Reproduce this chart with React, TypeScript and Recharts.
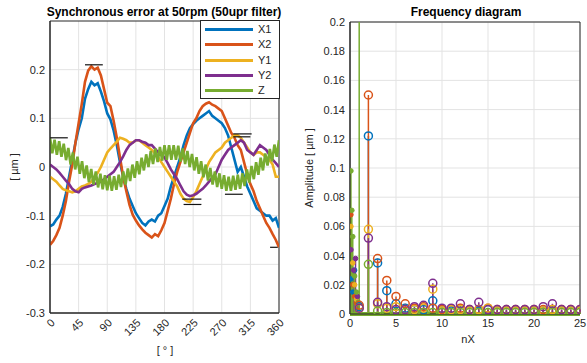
import React from 'react';
import {
  LineChart, Line, XAxis, YAxis, CartesianGrid, ReferenceLine, ReferenceArea,
  ComposedChart, Scatter, ErrorBar,
} from 'recharts';

const C_X1 = '#0072BD';
const C_X2 = '#D95319';
const C_Y1 = '#EDB120';
const C_Y2 = '#7E2F8E';
const C_Z = '#77AC30';
const TXT = '#262626';
const GRID = '#e3e3e3';
const FONT = '"Liberation Sans", Arial, Helvetica, sans-serif';

// ---------- Left: synchronous error ----------
const angleTicks = [0, 45, 90, 135, 180, 225, 270, 315, 360];
const errorTicks = [-0.3, -0.2, -0.1, 0, 0.1, 0.2];
const angles = [0,5,10,15,20,25,30,35,40,45,50,55,60,65,70,75,80,85,90,95,100,105,110,115,120,125,130,135,140,145,150,155,160,165,170,175,180,185,190,195,200,205,210,215,220,225,230,235,240,245,250,255,260,265,270,275,280,285,290,295,300,305,310,315,320,325,330,335,340,345,350,355,360];
const x1Error = [-0.122,-0.118,-0.108,-0.1,-0.082,-0.055,-0.02,0.015,0.05,0.078,0.1,0.14,0.16,0.175,0.168,0.172,0.155,0.135,0.11,0.098,0.075,0.045,0.01,-0.02,-0.045,-0.065,-0.08,-0.095,-0.105,-0.115,-0.12,-0.112,-0.108,-0.112,-0.1,-0.095,-0.08,-0.065,-0.04,-0.02,0.0,0.02,0.045,0.065,0.08,0.088,0.095,0.1,0.105,0.11,0.115,0.105,0.1,0.095,0.09,0.08,0.065,0.04,0.015,-0.01,0.0,-0.02,-0.04,-0.055,-0.07,-0.085,-0.09,-0.095,-0.1,-0.1,-0.11,-0.105,-0.125];
const x2Error = [-0.16,-0.152,-0.14,-0.125,-0.1,-0.07,-0.03,0.005,0.05,0.09,0.13,0.175,0.198,0.207,0.2,0.204,0.188,0.16,0.132,0.125,0.095,0.06,0.02,-0.02,-0.05,-0.078,-0.098,-0.11,-0.12,-0.128,-0.135,-0.14,-0.145,-0.138,-0.142,-0.13,-0.115,-0.09,-0.065,-0.035,-0.01,0.01,0.03,0.05,0.07,0.09,0.1,0.115,0.125,0.13,0.133,0.128,0.125,0.12,0.115,0.1,0.085,0.07,0.06,0.045,0.035,0.01,-0.015,-0.035,-0.05,-0.07,-0.085,-0.1,-0.115,-0.125,-0.138,-0.15,-0.165];
const y1Error = [-0.02,-0.025,-0.03,-0.038,-0.045,-0.048,-0.05,-0.052,-0.05,-0.045,-0.04,-0.038,-0.035,-0.03,-0.02,-0.012,0.0,0.015,0.03,0.038,0.045,0.052,0.06,0.058,0.055,0.05,0.05,0.055,0.055,0.05,0.045,0.04,0.035,0.028,0.02,0.01,0.0,-0.01,-0.02,-0.03,-0.04,-0.055,-0.065,-0.07,-0.072,-0.062,-0.05,-0.035,-0.02,-0.005,0.01,0.02,0.03,0.035,0.04,0.05,0.055,0.06,0.065,0.065,0.06,0.05,0.04,0.03,0.025,0.03,0.03,0.025,0.02,0.015,0.005,-0.02,-0.02];
const y2Error = [0.005,0.0,-0.005,-0.012,-0.02,-0.028,-0.035,-0.045,-0.05,-0.052,-0.045,-0.042,-0.04,-0.038,-0.035,-0.033,-0.03,-0.025,-0.02,-0.015,-0.01,0.0,0.01,0.022,0.035,0.045,0.05,0.055,0.055,0.052,0.05,0.045,0.045,0.038,0.03,0.025,0.02,0.008,-0.005,-0.015,-0.025,-0.038,-0.05,-0.057,-0.06,-0.058,-0.055,-0.05,-0.045,-0.038,-0.03,-0.022,-0.015,0.0,0.015,0.025,0.035,0.04,0.045,0.05,0.055,0.05,0.035,0.03,0.025,0.035,0.045,0.04,0.035,0.025,0.015,0.008,0.0];
const zAngles = [0,3.6,7.2,10.8,14.4,18,21.6,25.2,28.8,32.4,36,39.6,43.2,46.8,50.4,54,57.6,61.2,64.8,68.4,72,75.6,79.2,82.8,86.4,90,93.6,97.2,100.8,104.4,108,111.6,115.2,118.8,122.4,126,129.6,133.2,136.8,140.4,144,147.6,151.2,154.8,158.4,162,165.6,169.2,172.8,176.4,180,183.6,187.2,190.8,194.4,198,201.6,205.2,208.8,212.4,216,219.6,223.2,226.8,230.4,234,237.6,241.2,244.8,248.4,252,255.6,259.2,262.8,266.4,270,273.6,277.2,280.8,284.4,288,291.6,295.2,298.8,302.4,306,309.6,313.2,316.8,320.4,324,327.6,331.2,334.8,338.4,342,345.6,349.2,352.8,356.4,360];
const zError = [0.060,0.028,0.056,0.025,0.053,0.021,0.048,0.014,0.039,0.005,0.030,-0.005,0.021,-0.014,0.012,-0.023,0.003,-0.031,-0.004,-0.036,-0.009,-0.042,-0.014,-0.046,-0.017,-0.048,-0.018,-0.049,-0.019,-0.047,-0.016,-0.041,-0.009,-0.036,-0.003,-0.029,0.005,-0.022,0.012,-0.015,0.019,-0.007,0.026,0.000,0.033,0.006,0.038,0.010,0.041,0.013,0.045,0.015,0.045,0.015,0.045,0.015,0.044,0.011,0.038,0.006,0.033,0.000,0.027,-0.007,0.020,-0.014,0.012,-0.021,0.005,-0.028,-0.002,-0.036,-0.009,-0.041,-0.013,-0.045,-0.017,-0.049,-0.020,-0.049,-0.018,-0.047,-0.016,-0.045,-0.013,-0.039,-0.005,-0.032,0.002,-0.025,0.010,-0.016,0.019,-0.007,0.028,0.003,0.037,0.012,0.046,0.021,0.055];
// min / max markers (x from, x to, level)
const markFrom = [55, 0, 208, 210, 288, 288, 275, 346];
const markTo = [83, 28, 238, 238, 317, 315, 303, 358];
const markLevel = [0.21, 0.06, -0.066, -0.077, 0.068, 0.062, -0.056, -0.165];

const legendNames = ['X1', 'X2', 'Y1', 'Y2', 'Z'];
const legendColors = [C_X1, C_X2, C_Y1, C_Y2, C_Z];

// ---------- Right: frequency diagram ----------
const nxTicks = [0, 5, 10, 15, 20, 25];
const ampTicks = [0, 0.02, 0.04, 0.06, 0.08, 0.1, 0.12, 0.14, 0.16, 0.18, 0.2];
const orders = [1,2,3,4,5,6,7,8,9,10,11,12,13,14,15,16,17,18,19,20,21,22,23,24,25];
const x1Amp = [0.005,0.122,0.035,0.016,0.007,0.004,0.003,0.003,0.009,0.002,0.002,0.003,0.002,0.002,0.003,0.002,0.002,0.002,0.002,0.002,0.002,0.002,0.002,0.002,0.002];
const x2Amp = [0.006,0.150,0.038,0.023,0.012,0.007,0.004,0.005,0.004,0.003,0.003,0.004,0.003,0.003,0.004,0.003,0.003,0.003,0.003,0.003,0.003,0.003,0.003,0.003,0.003];
const y1Amp = [0.004,0.058,0.007,0.004,0.005,0.003,0.003,0.004,0.017,0.002,0.003,0.003,0.002,0.003,0.004,0.002,0.002,0.002,0.002,0.002,0.002,0.003,0.002,0.002,0.002];
const y2Amp = [0.004,0.052,0.008,0.005,0.003,0.003,0.005,0.006,0.021,0.004,0.004,0.007,0.003,0.008,0.003,0.003,0.003,0.003,0.003,0.003,0.005,0.007,0.003,0.003,0.003];
const zAmp = [0.3,0.034,0.002,0.001,0.001,0.001,0.001,0.001,0.001,0.001,0.001,0.001,0.001,0.001,0.001,0.001,0.001,0.001,0.001,0.001,0.001,0.001,0.001,0.001,0.001];
// low-order fine resolution components
const x1FineNx = [0.1, 0.3, 0.5, 0.7];
const x1FineAmp = [0.024, 0.015, 0.03, 0.01];
const x2FineNx = [0.1, 0.3, 0.5, 0.7];
const x2FineAmp = [0.068, 0.02, 0.012, 0.008];
const y1FineNx = [0.1, 0.3, 0.5, 0.7];
const y1FineAmp = [0.06, 0.035, 0.02, 0.01];
const y2FineNx = [0.1, 0.4, 0.6, 0.8];
const y2FineAmp = [0.044, 0.03, 0.038, 0.012];
const zFineNx = [0.1, 0.2, 0.3, 0.5, 0.7, 0.9];
const zFineAmp = [0.098, 0.071, 0.053, 0.026, 0.015, 0.008];

const AMP_MAX = ampTicks[ampTicks.length - 1];

const lineRows = angles.map((deg, i) => ({ deg, X1: x1Error[i], X2: x2Error[i], Y1: y1Error[i], Y2: y2Error[i] }));
const zRows = zAngles.map((deg, i) => ({ deg, Z: zError[i] }));
// rows inside the visible amplitude range get an error-bar stem; taller ones get a clipped stem line
const stemRows = (xs: number[], ys: number[]) =>
  xs.map((nx, i) => ({ nx, amp: ys[i], err: [ys[i], 0] })).filter((r) => r.amp <= AMP_MAX);
const tallRows = (xs: number[], ys: number[]) =>
  xs.map((nx, i) => ({ nx, amp: ys[i] })).filter((r) => r.amp > AMP_MAX);

const tickStyle = { fontSize: 11, fill: TXT, fontFamily: FONT };

const openCircle = (color: string) => (p: any) =>
  <circle cx={p.cx} cy={p.cy} r={4} fill="none" stroke={color} strokeWidth={1.5} />;
const dotCircle = (color: string) => (p: any) =>
  <circle cx={p.cx} cy={p.cy} r={2.3} fill={color} stroke={color} strokeWidth={1} />;

const stemSeries = [
  { c: C_X1, xs: orders, ys: x1Amp, fx: x1FineNx, fy: x1FineAmp },
  { c: C_X2, xs: orders, ys: x2Amp, fx: x2FineNx, fy: x2FineAmp },
  { c: C_Y1, xs: orders, ys: y1Amp, fx: y1FineNx, fy: y1FineAmp },
  { c: C_Y2, xs: orders, ys: y2Amp, fx: y2FineNx, fy: y2FineAmp },
  { c: C_Z, xs: orders, ys: zAmp, fx: zFineNx, fy: zFineAmp },
];

const Txt = ({ x, y, children, bold, rotate, size }: any) => (
  <div style={{
    position: 'absolute', left: x, top: y, whiteSpace: 'nowrap',
    transform: `translate(-50%, -50%)${rotate ? ` rotate(${rotate}deg)` : ''}`,
    fontFamily: FONT, fontSize: size || 11, fontWeight: bold ? 'bold' : 'normal', color: bold ? '#000' : TXT,
  }}>{children}</div>
);

export default function App() {
  return (
    <div style={{ position: 'absolute', left: 0, top: 0, width: 587, height: 363, background: '#fff', overflow: 'hidden' }}>
      <div style={{ position: 'absolute', left: 0, top: 0 }}>
        <LineChart width={300} height={363} data={lineRows} margin={{ top: 21, right: 21, left: 0, bottom: 0 }}>
          <CartesianGrid stroke={GRID} horizontalValues={errorTicks} verticalValues={angleTicks} />
          <XAxis dataKey="deg" type="number" domain={[0, 360]} ticks={angleTicks} interval={0}
            height={50} angle={-45} textAnchor="end" tick={tickStyle} tickLine={false} tickSize={3}
            axisLine={{ stroke: TXT }} allowDataOverflow />
          <YAxis type="number" domain={[-0.3, 0.3]} ticks={errorTicks} interval={0} width={50}
            tick={tickStyle} tickLine={false} tickSize={3} axisLine={{ stroke: TXT }} allowDataOverflow
            tickFormatter={(v: number) => String(+v.toFixed(1))} />
          <ReferenceArea x1={0} x2={360} y1={-0.3} y2={0.3} fill="none" stroke={TXT} strokeWidth={1} ifOverflow="visible" />
          <Line dataKey="X1" stroke={C_X1} strokeWidth={2.6} dot={false} isAnimationActive={false} />
          <Line dataKey="X2" stroke={C_X2} strokeWidth={2.6} dot={false} isAnimationActive={false} />
          <Line dataKey="Y1" stroke={C_Y1} strokeWidth={2.6} dot={false} isAnimationActive={false} />
          <Line dataKey="Y2" stroke={C_Y2} strokeWidth={2.6} dot={false} isAnimationActive={false} />
          <Line data={zRows} dataKey="Z" stroke={C_Z} strokeWidth={2.6} dot={false} isAnimationActive={false} />
          {markLevel.map((lv, i) => (
            <ReferenceLine key={i} segment={[{ x: markFrom[i], y: lv }, { x: markTo[i], y: lv }]}
              stroke="#111" strokeWidth={1.2} ifOverflow="visible" />
          ))}
        </LineChart>
      </div>

      <div style={{ position: 'absolute', left: 300, top: 0 }}>
        <ComposedChart width={287} height={363} margin={{ top: 22, right: 7, left: 0, bottom: 0 }}>
          <CartesianGrid stroke={GRID} horizontalValues={ampTicks} verticalValues={nxTicks} />
          <XAxis dataKey="nx" type="number" domain={[0, 25]} ticks={nxTicks} interval={0} height={49}
            tick={tickStyle} tickLine={false} tickSize={3} axisLine={{ stroke: TXT }} allowDataOverflow />
          <YAxis dataKey="amp" type="number" domain={[0, AMP_MAX]} ticks={ampTicks} interval={0} width={50}
            tick={tickStyle} tickLine={false} tickSize={3} axisLine={{ stroke: TXT }} allowDataOverflow
            tickFormatter={(v: number) => String(+v.toFixed(2))} />
          <ReferenceArea x1={0} x2={25} y1={0} y2={AMP_MAX} fill="none" stroke={TXT} strokeWidth={1} ifOverflow="visible" />
          {stemSeries.map((s, i) => (
            <Scatter key={'f' + i} data={stemRows(s.fx, s.fy)} shape={dotCircle(s.c)} isAnimationActive={false}>
              <ErrorBar dataKey="err" direction="y" width={0} stroke={s.c} strokeWidth={1.5} />
            </Scatter>
          ))}
          {stemSeries.map((s, i) => (
            <Scatter key={'s' + i} data={stemRows(s.xs, s.ys)} shape={openCircle(s.c)} isAnimationActive={false}>
              <ErrorBar dataKey="err" direction="y" width={0} stroke={s.c} strokeWidth={1.5} />
            </Scatter>
          ))}
          {stemSeries.map((s) => tallRows(s.xs, s.ys).map((r, j) => (
            <ReferenceLine key={s.c + j} segment={[{ x: r.nx, y: 0 }, { x: r.nx, y: r.amp }]}
              stroke={s.c} strokeWidth={1.5} ifOverflow="hidden" />
          )))}
          <ReferenceLine y={0} stroke={C_Z} strokeWidth={4} />
        </ComposedChart>
      </div>

      <div style={{
        position: 'absolute', left: 200, top: 20, width: 80, height: 79, background: '#fff',
        border: `1px solid ${TXT}`, boxSizing: 'border-box',
      }}>
        {legendNames.map((n, i) => (
          <div key={n} style={{ position: 'absolute', left: 4, top: 1 + i * 15.3, height: 15, display: 'flex', alignItems: 'center' }}>
            <div style={{ width: 48, height: 3, background: legendColors[i] }} />
            <span style={{ marginLeft: 5, fontFamily: FONT, fontSize: 11, color: TXT, lineHeight: '15px' }}>{n}</span>
          </div>
        ))}
      </div>

      <Txt x={164} y={12} bold size={12}>Synchronous error at 50rpm (50upr filter)</Txt>
      <Txt x={14} y={167} rotate={-90}>[ µm ]</Txt>
      <Txt x={165} y={350}>[ ° ]</Txt>
      <Txt x={466} y={12} bold size={12}>Frequency diagram</Txt>
      <Txt x={309} y={168} rotate={-90}>Amplitude [ µm ]</Txt>
      <Txt x={468} y={339}>nX</Txt>
    </div>
  );
}
